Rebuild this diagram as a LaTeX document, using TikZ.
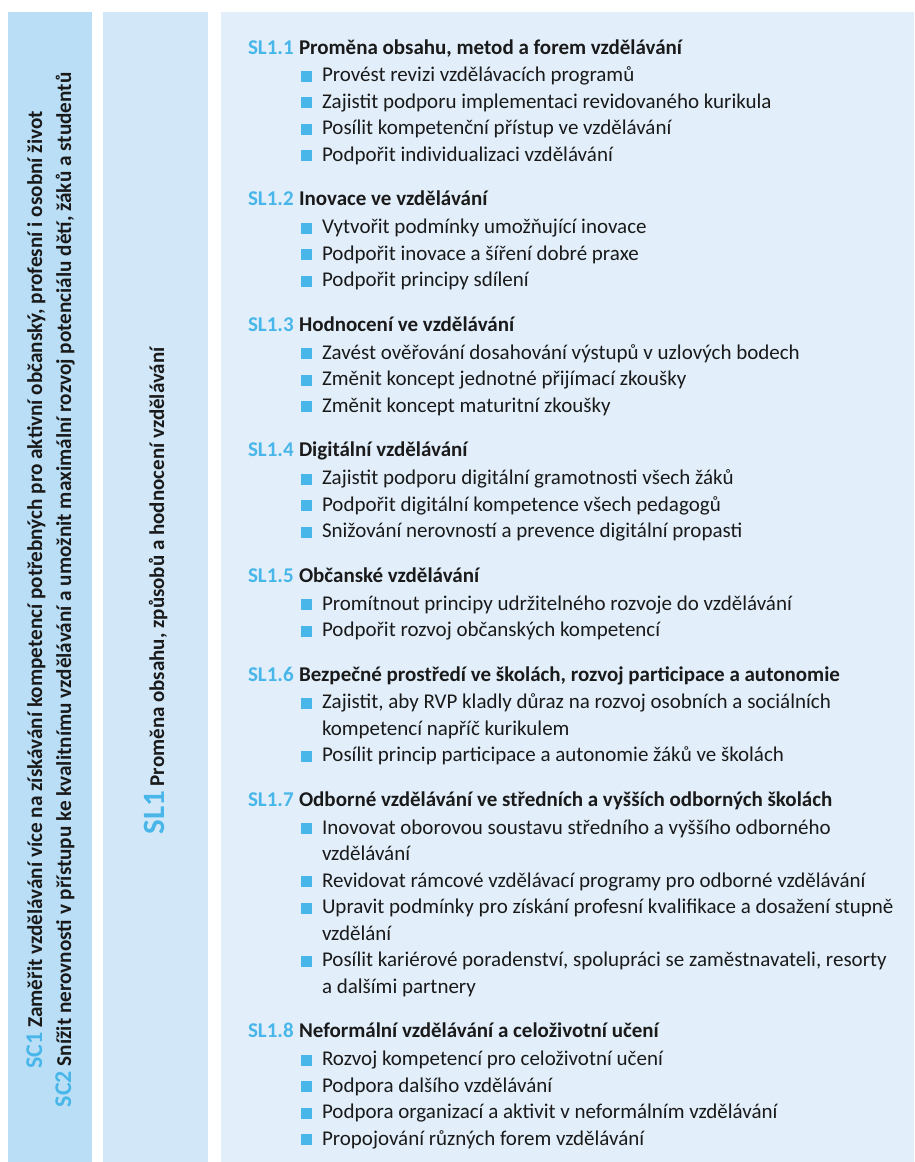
\documentclass[tikz,border=0pt]{standalone}
\usepackage{fontspec}
\setmainfont{Carlito}
\usetikzlibrary{positioning}
\definecolor{slblue}{RGB}{72,182,232}
\definecolor{goalfill}{RGB}{186,222,246}
\definecolor{areafill}{RGB}{210,232,249}
\definecolor{listfill}{RGB}{226,239,251}
\definecolor{ink}{RGB}{26,26,26}
\newcommand{\listfont}{\fontsize{10.5}{13.25}\selectfont}
\newcommand{\sqbul}{\llap{\textcolor{slblue}{\rule{5.5pt}{5.5pt}}\hspace{5pt}}}
\newcommand{\slnum}[1]{\makebox[25.5pt][l]{\textcolor{slblue}{#1}}}
\tikzset{head/.style = {anchor=north west, inner sep=0pt, outer sep=0pt, text height=9pt, text depth=4.25pt, font=\listfont\bfseries}}
\tikzset{item/.style = {anchor=north west, inner sep=0pt, outer sep=0pt, text height=9pt, text depth=4.25pt, execute at begin node=\sqbul}}
\tikzset{item2/.style = {item, text width=320pt, align=flush left, text depth=17.5pt}}
\tikzset{vert/.style = {rotate=90, inner sep=0pt, outer sep=0pt}}

\begin{document}
\begin{tikzpicture}[font=\listfont, text=ink]
  \useasboundingbox (0,0) rectangle (457.5pt,-581pt);
  \fill[goalfill] (4pt,-6pt) rectangle (46pt,-581pt);
  \fill[areafill] (51.5pt,-6pt) rectangle (104pt,-581pt);
  \fill[listfill] (110.5pt,-6pt) rectangle (457pt,-581pt);

  % goals and area, turned
  \node[vert, align=center, font=\fontsize{10.6}{14.5}\selectfont\bfseries] (sc) at (25.25pt,-295pt)
    {{\large\textcolor{slblue}{SC1}} Zaměřit vzdělávání více na získávání kompetencí potřebných pro aktivní občanský, profesní i osobní život\\
     {\large\textcolor{slblue}{SC2}} Snížit nerovnosti v přístupu ke kvalitnímu vzdělávání a umožnit maximální rozvoj potenciálu dětí, žáků a studentů};
  \node[vert, font=\listfont\bfseries] (sl) at (77.75pt,-295.5pt)
    {{\fontsize{15.5}{15.5}\selectfont\textcolor{slblue}{SL1}} Proměna obsahu, způsobů a hodnocení vzdělávání};

  % SL1.1
  \node[head] (h1) at (124pt,-18pt) {\slnum{SL1.1}Proměna obsahu, metod a forem vzdělávání};
  \node[below=0.7pt of h1.south west, item, xshift=37pt] (b11) {Provést revizi vzdělávacích programů};
  \node[below=0pt of b11.south west, item] (b12) {Zajistit podporu implementaci revidovaného kurikula};
  \node[below=0pt of b12.south west, item] (b13) {Posílit kompetenční přístup ve vzdělávání};
  \node[below=0pt of b13.south west, item] (b14) {Podpořit individualizaci vzdělávání};

  % SL1.2
  \node[below=9pt of b14.south west, head, xshift=-37pt] (h2) {\slnum{SL1.2}Inovace ve vzdělávání};
  \node[below=0.7pt of h2.south west, item, xshift=37pt] (b21) {Vytvořit podmínky umožňující inovace};
  \node[below=0pt of b21.south west, item] (b22) {Podpořit inovace a šíření dobré praxe};
  \node[below=0pt of b22.south west, item] (b23) {Podpořit principy sdílení};

  % SL1.3
  \node[below=9pt of b23.south west, head, xshift=-37pt] (h3) {\slnum{SL1.3}Hodnocení ve vzdělávání};
  \node[below=0.7pt of h3.south west, item, xshift=37pt] (b31) {Zavést ověřování dosahování výstupů v uzlových bodech};
  \node[below=0pt of b31.south west, item] (b32) {Změnit koncept jednotné přijímací zkoušky};
  \node[below=0pt of b32.south west, item] (b33) {Změnit koncept maturitní zkoušky};

  % SL1.4
  \node[below=9pt of b33.south west, head, xshift=-37pt] (h4) {\slnum{SL1.4}Digitální vzdělávání};
  \node[below=0.7pt of h4.south west, item, xshift=37pt] (b41) {Zajistit podporu digitální gramotnosti všech žáků};
  \node[below=0pt of b41.south west, item] (b42) {Podpořit digitální kompetence všech pedagogů};
  \node[below=0pt of b42.south west, item] (b43) {Snižování nerovností a prevence digitální propasti};

  % SL1.5
  \node[below=9pt of b43.south west, head, xshift=-37pt] (h5) {\slnum{SL1.5}Občanské vzdělávání};
  \node[below=0.7pt of h5.south west, item, xshift=37pt] (b51) {Promítnout principy udržitelného rozvoje do vzdělávání};
  \node[below=0pt of b51.south west, item] (b52) {Podpořit rozvoj občanských kompetencí};

  % SL1.6
  \node[below=9pt of b52.south west, head, xshift=-37pt] (h6) {\slnum{SL1.6}Bezpečné prostředí ve školách, rozvoj participace a autonomie};
  \node[below=0.7pt of h6.south west, item2, xshift=37pt] (b61) {Zajistit, aby RVP kladly důraz na rozvoj osobních a sociálních\\kompetencí napříč kurikulem};
  \node[below=0pt of b61.south west, item] (b62) {Posílit princip participace a autonomie žáků ve školách};

  % SL1.7
  \node[below=9pt of b62.south west, head, xshift=-37pt] (h7) {\slnum{SL1.7}Odborné vzdělávání ve středních a vyšších odborných školách};
  \node[below=0.7pt of h7.south west, item2, xshift=37pt] (b71) {Inovovat oborovou soustavu středního a vyššího odborného\\vzdělávání};
  \node[below=0pt of b71.south west, item] (b72) {Revidovat rámcové vzdělávací programy pro odborné vzdělávání};
  \node[below=0pt of b72.south west, item2] (b73) {Upravit podmínky pro získání profesní kvalifikace a dosažení stupně\\vzdělání};
  \node[below=0pt of b73.south west, item2] (b74) {Posílit kariérové poradenství, spolupráci se zaměstnavateli, resorty\\a dalšími partnery};

  % SL1.8
  \node[below=9pt of b74.south west, head, xshift=-37pt] (h8) {\slnum{SL1.8}Neformální vzdělávání a celoživotní učení};
  \node[below=0.7pt of h8.south west, item, xshift=37pt] (b81) {Rozvoj kompetencí pro celoživotní učení};
  \node[below=0pt of b81.south west, item] (b82) {Podpora dalšího vzdělávání};
  \node[below=0pt of b82.south west, item] (b83) {Podpora organizací a aktivit v neformálním vzdělávání};
  \node[below=0pt of b83.south west, item] (b84) {Propojování různých forem vzdělávání};
\end{tikzpicture}
\end{document}
